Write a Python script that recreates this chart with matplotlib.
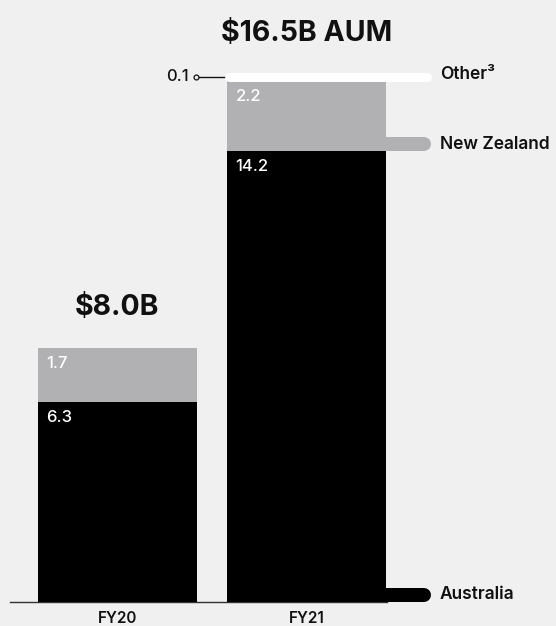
import numpy as np
import matplotlib.pyplot as plt

plt.rcParams['font.family'] = ['Inter', 'DejaVu Sans']

years = ['FY20', 'FY21']
australia = [6.3, 14.2]
new_zealand = [1.7, 2.2]
other = [0.0, 0.1]
totals = ['$8.0B', '$16.5B AUM']

bg = '#f0f0f0'
grey = '#b1b1b3'
ink = '#111111'

fig = plt.figure(figsize=(5.56, 6.26), dpi=100, facecolor=bg)
ax = fig.add_axes([0, 0, 1, 1])
ax.set_facecolor(bg)

# pixel-ish scaling: one bar step = 189.5px, one unit of AUM = 31.75px
ax.set_xlim(-0.620, 2.314)
ax.set_ylim(-0.756, 18.96)
ax.axis('off')

x = np.arange(len(years))
w = 0.839
px_y = 1 / 31.75
px_x = 1 / 189.5

aus = np.array(australia)
nz = np.array(new_zealand)
oth = np.array(other)

# baseline
ax.plot([-0.567, 1.42], [0, 0], color='#333333', lw=1, zorder=1)

# label tabs behind the FY21 bar
tab_end = 1.0 + (424 - 307) * px_x
ax.plot([1.0, tab_end], [7 * px_y] * 2, color='black',
        lw=14 * 0.72, solid_capstyle='round', zorder=2)
ax.plot([1.0, tab_end], [aus[1] + 7 * px_y] * 2, color=grey,
        lw=14 * 0.72, solid_capstyle='round', zorder=2)

ax.bar(x, aus, w, color='black', zorder=3)
ax.bar(x, nz, w, bottom=aus, color=grey, zorder=3)
ax.bar(x, oth, w, bottom=aus + nz, color='white', zorder=3)

# white band for the small "Other" slice, drawn over the bar top
top = aus[1] + nz[1]
ax.plot([1 - w / 2 + 2 * px_x, 1.0 + (427 - 307) * px_x], [top + 4.5 * px_y] * 2,
        color='white', lw=9 * 0.72, solid_capstyle='round', zorder=4)

# values inside the segments
for i in range(len(years)):
    xl = x[i] - w / 2 + 8 * px_x
    ax.text(xl, aus[i] - 8 * px_y, f'{aus[i]:.1f}', color='white', fontsize=12,
            fontweight='medium', ha='left', va='top', zorder=5)
    ax.text(xl, aus[i] + nz[i] - 8 * px_y, f'{nz[i]:.1f}', color='white', fontsize=12,
            fontweight='medium', ha='left', va='top', zorder=5)

# small "other" value with leader
oy = top + 4.5 * px_y
ax.plot([1 - w / 2 - 30 * px_x, 1 - w / 2 - 3 * px_x], [oy, oy], color=ink, lw=1, zorder=4)
ax.plot(1 - w / 2 - 31 * px_x, oy, 'o', ms=3.5, mfc=bg, mec=ink, mew=0.9, zorder=5)
ax.text(1 - w / 2 - 39 * px_x, oy, f'{oth[1]:.1f}', color=ink, fontsize=12,
        fontweight='medium', ha='right', va='center')

# series labels
lx = 1.0 + (440 - 307) * px_x
ax.text(lx, oy + 2 * px_y, 'Other³', color=ink, fontsize=12.5, fontweight='semibold',
        ha='left', va='center')
ax.text(lx, aus[1] + 7 * px_y, 'New Zealand', color=ink, fontsize=12.5, fontweight='semibold',
        ha='left', va='center')
ax.text(lx, 7 * px_y, 'Australia', color=ink, fontsize=12.5, fontweight='semibold',
        ha='left', va='center')

# totals above bars
ax.text(0, 9.26, totals[0], color=ink, fontsize=20.5, fontweight='bold', ha='center', va='center')
ax.text(1, 17.92, totals[1], color=ink, fontsize=20.5, fontweight='bold', ha='center', va='center')

for i, y in enumerate(years):
    ax.text(x[i], -17 * px_y, y, color=ink, fontsize=11, fontweight='semibold',
            ha='center', va='center')

fig.savefig('out.png', dpi=100, facecolor=bg)
